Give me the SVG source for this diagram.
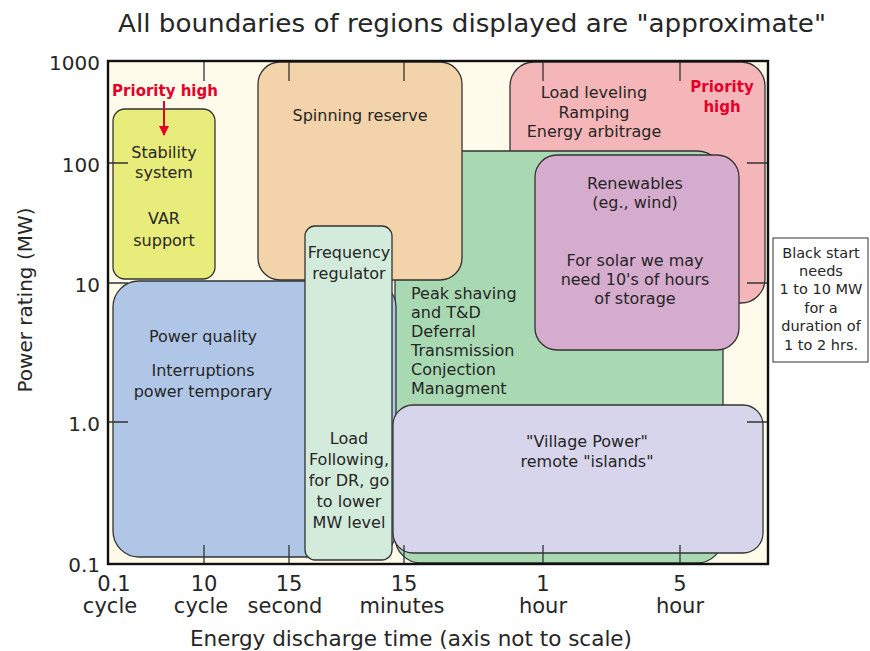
<svg xmlns="http://www.w3.org/2000/svg" width="870" height="651" viewBox="0 0 870 651">
  <defs>
    <marker id="arrowRed" viewBox="0 0 10 10" refX="9" refY="5" markerWidth="5" markerHeight="5" orient="auto">
      <path d="M0,0 L10,5 L0,10 z" fill="#E4002B"/>
    </marker>
    <style>
      text { font-family: "DejaVu Sans", "Liberation Sans", sans-serif; fill: #262626; }
      .box { stroke: #333; stroke-width: 1.3; }
      .lbl { font-size: 16px; text-anchor: middle; }
      .lft { font-size: 16px; text-anchor: start; }
      .axis { font-size: 20px; }
      .xt { font-size: 21px; }
      .red { fill: #E4002B; font-weight: bold; font-size: 15px; text-anchor: middle; }
      .tick { stroke: #333; stroke-width: 1.3; fill: none; }
      .note { font-size: 14.5px; text-anchor: middle; }
    </style>
  </defs>

  <rect width="870" height="651" fill="#ffffff"/>

  <!-- title -->
  <text x="472" y="32" font-size="25" text-anchor="middle" textLength="708" lengthAdjust="spacingAndGlyphs">All boundaries of regions displayed are "approximate"</text>

  <!-- plot area -->
  <rect x="108" y="61" width="660" height="503" fill="#FEFBEA"/>

  <!-- regions -->
  <g id="load-leveling">
    <rect class="box" x="510" y="62" width="255" height="241" rx="24" fill="#F4B6B8"/>
    <text class="lbl" x="594" y="98">Load leveling</text>
    <text class="lbl" x="594" y="118">Ramping</text>
    <text class="lbl" x="594" y="137">Energy arbitrage</text>
    <text class="red" x="722" y="92">Priority</text>
    <text class="red" x="722" y="112">high</text>
  </g>

  <g id="peak-shaving">
    <rect class="box" x="395" y="151" width="328" height="412" rx="26" fill="#A9D9B3"/>
    <text class="lft" x="411" y="299">Peak shaving</text>
    <text class="lft" x="411" y="318">and T&amp;D</text>
    <text class="lft" x="411" y="337">Deferral</text>
    <text class="lft" x="411" y="356">Transmission</text>
    <text class="lft" x="411" y="375">Conjection</text>
    <text class="lft" x="411" y="394">Managment</text>
  </g>

  <g id="spinning-reserve">
    <rect class="box" x="258" y="62" width="204" height="218" rx="22" fill="#F3D3A9"/>
    <text class="lbl" x="360" y="121">Spinning reserve</text>
  </g>

  <g id="stability">
    <rect class="box" x="113" y="109" width="102" height="170" rx="12" fill="#E8EC7A"/>
    <text class="lbl" x="164" y="158">Stability</text>
    <text class="lbl" x="164" y="178">system</text>
    <text class="lbl" x="164" y="224">VAR</text>
    <text class="lbl" x="164" y="246">support</text>
  </g>

  <g id="power-quality">
    <rect class="box" x="113" y="281" width="283" height="276" rx="26" fill="#AFC6E7"/>
    <text class="lbl" x="203" y="342">Power quality</text>
    <text class="lbl" x="203" y="376">Interruptions</text>
    <text class="lbl" x="203" y="397">power temporary</text>
  </g>

  <g id="frequency-regulator">
    <rect class="box" x="305" y="226" width="87" height="334" rx="10" fill="#D3EBDB"/>
    <text class="lbl" x="349" y="258">Frequency</text>
    <text class="lbl" x="349" y="279">regulator</text>
    <text class="lbl" x="349" y="444">Load</text>
    <text class="lbl" x="349" y="465">Following,</text>
    <text class="lbl" x="349" y="486">for DR, go</text>
    <text class="lbl" x="349" y="507">to lower</text>
    <text class="lbl" x="349" y="528">MW level</text>
  </g>

  <g id="renewables">
    <rect class="box" x="535" y="155" width="204" height="195" rx="22" fill="#D5ABCE"/>
    <text class="lbl" x="635" y="189">Renewables</text>
    <text class="lbl" x="635" y="208">(eg., wind)</text>
    <text class="lbl" x="635" y="266">For solar we may</text>
    <text class="lbl" x="635" y="285">need 10's of hours</text>
    <text class="lbl" x="635" y="304">of storage</text>
  </g>

  <g id="village-power">
    <rect class="box" x="393" y="405" width="370" height="148" rx="20" fill="#D7D5EB"/>
    <text class="lbl" x="587" y="447">"Village Power"</text>
    <text class="lbl" x="587" y="467">remote "islands"</text>
  </g>

  <!-- axis ticks -->
  <g id="ticks">
    <path class="tick" d="M204,61 V81 M289,61 V81 M404,61 V81 M543,61 V81 M680,61 V81"/>
    <path class="tick" d="M204,564 V545 M289,564 V545 M404,564 V545 M543,564 V545 M680,564 V545"/>
    <path class="tick" d="M108,163 H128 M108,283 H128 M108,422 H128"/>
    <path class="tick" d="M768,163 H747 M768,283 H747 M768,422 H747"/>
  </g>

  <!-- frame -->
  <rect x="108" y="61" width="660" height="503" fill="none" stroke="#111" stroke-width="2.4"/>

  <!-- priority marker for stability -->
  <g id="priority-stability">
    <text class="red" x="165" y="96">Priority high</text>
  </g>
  <g id="connectors">
    <line x1="164" y1="101" x2="164" y2="135" stroke="#E4002B" stroke-width="2" marker-end="url(#arrowRed)"/>
  </g>

  <!-- y axis labels -->
  <g class="axis" text-anchor="end">
    <text x="100" y="70">1000</text>
    <text x="100" y="172">100</text>
    <text x="100" y="292">10</text>
    <text x="100" y="431">1.0</text>
    <text x="100" y="572">0.1</text>
  </g>
  <text class="axis" transform="translate(32,300) rotate(-90)" text-anchor="middle">Power rating (MW)</text>

  <!-- x axis labels -->
  <g class="xt" text-anchor="middle">
    <text x="114" y="591">0.1</text>
    <text x="110" y="613">cycle</text>
    <text x="204" y="591">10</text>
    <text x="201" y="613">cycle</text>
    <text x="289" y="591">15</text>
    <text x="285" y="613">second</text>
    <text x="404" y="591">15</text>
    <text x="402" y="613">minutes</text>
    <text x="543" y="591">1</text>
    <text x="543" y="613">hour</text>
    <text x="680" y="591">5</text>
    <text x="680" y="613">hour</text>
  </g>
  <text x="411" y="646" font-size="21" text-anchor="middle" textLength="442" lengthAdjust="spacingAndGlyphs">Energy discharge time (axis not to scale)</text>

  <!-- side note -->
  <g id="black-start">
    <rect x="773" y="238" width="95" height="124" fill="#ffffff" stroke="#333" stroke-width="1"/>
    <text class="note" x="821" y="258">Black start</text>
    <text class="note" x="821" y="276">needs</text>
    <text class="note" x="821" y="294">1 to 10 MW</text>
    <text class="note" x="821" y="313">for a</text>
    <text class="note" x="821" y="331">duration of</text>
    <text class="note" x="821" y="350">1 to 2 hrs.</text>
  </g>
</svg>
